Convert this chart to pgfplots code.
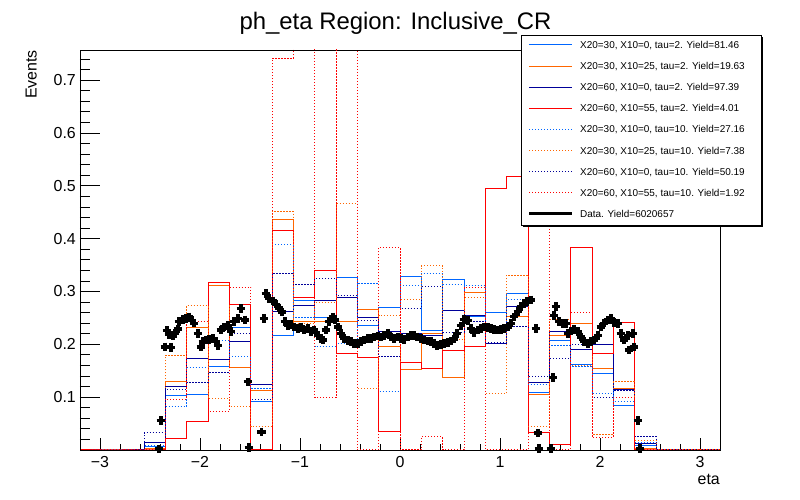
\documentclass[border=0pt]{standalone}
\usepackage{fontspec}
\setmainfont{Liberation Sans}
\usepackage{pgfplots}
\usepackage{pgfplotstable}
\pgfplotsset{compat=1.18}
\definecolor{cb}{RGB}{0,102,255}
\definecolor{co}{RGB}{255,102,0}
\definecolor{cn}{RGB}{0,0,153}
\definecolor{cr}{RGB}{255,0,0}
\pgfplotstableread{
e b o n r bd od nd rd
-3.2 0 0 0 0 0 0 0 0
-2.9867 0 0 0 0 0 0 0 0
-2.7733 0 0 0 0 0 0 0 0
-2.56 0.006 0.003 0.014 0 0.008 0 0.033 0
-2.3467 0.103 0.130 0.120 0.022 0.082 0.179 0.114 0.096
-2.1333 0.105 0.232 0.173 0.054 0.156 0.273 0.128 0.243
-1.92 0.158 0.312 0.171 0.317 0.208 0.0975 0.147 0.073
-1.7067 0.232 0.156 0.205 0.275 0.176 0.082 0.220 0.308
-1.4933 0.092 0.113 0.124 0 0.116 0.044 0.096 0
-1.28 0.217 0.436 0.262 0.416 0.389 0.4515 0.334 0.741
-1.0667 0.283 0.243 0.274 0.289 0.251 0.240 0.313 0.9
-0.8533 0.251 0.243 0.283 0.340 0.195 0.280 0.325 0.099
-0.64 0.326 0.243 0.288 0.182 0.201 0.467 0.292 0.9
-0.4267 0.236 0.266 0.251 0.175 0.315 0.116 0.246 0
-0.2133 0.270 0.196 0.224 0.035 0.111 0.255 0.176 0.383
0 0.329 0.152 0.221 0.166 0.311 0.285 0.268 0
0.2133 0.227 0.220 0.216 0.154 0.334 0.349 0.309 0.025
0.4267 0.322 0.137 0.264 0.188 0.313 0.210 0.223 0
0.64 0.252 0.298 0.255 0.196 0.311 0.289 0.244 0.307
0.8533 0.260 0.225 0.201 0.494 0.230 0.107 0.203 0
1.0667 0.296 0.253 0.271 0.518 0.285 0.331 0.234 0
1.28 0.109 0.105 0.128 0.033 0.124 0.044 0.139 0.8
1.4933 0.208 0.217 0.224 0.010 0.198 0.247 0.173 0
1.7067 0.162 0.240 0.190 0.384 0.158 0.159 0.200 0.261
1.92 0.145 0.154 0.200 0.183 0.106 0.029 0.100 0.024
2.1333 0.085 0.116 0.115 0.241 0.091 0.129 0.113 0.100
2.3467 0.009 0.003 0.012 0 0.015 0.018 0.026 0
2.56 0 0 0 0 0 0 0 0
2.7733 0 0 0 0 0 0 0 0
2.9867 0 0 0 0 0 0 0 0
3.2 0 0 0 0 0 0 0 0
}\hist
\pgfplotstableread{
x y
-2.41 0.002
-2.39 0.056
-2.35 0.195
-2.33 0.226
-2.31 0.219
-2.29 0.194
-2.27 0.217
-2.25 0.220
-2.22 0.229
-2.21 0.243
-2.17 0.247
-2.14 0.249
-2.11 0.252
-2.08 0.245
-2.06 0.240
-2.02 0.221
-1.99 0.195
-1.97 0.205
-1.94 0.208
-1.91 0.209
-1.87 0.211
-1.84 0.205
-1.82 0.198
-1.79 0.227
-1.76 0.233
-1.72 0.236
-1.69 0.224
-1.66 0.243
-1.62 0.249
-1.59 0.268
-1.55 0.246
-1.52 0.129
-1.51 0.005
-1.385 0.034
-1.36 0.249
-1.34 0.296
-1.31 0.287
-1.27 0.282
-1.24 0.276
-1.21 0.269
-1.18 0.261
-1.15 0.243
-1.12 0.236
-1.09 0.238
-1.06 0.233
-1.02 0.230
-0.99 0.233
-0.96 0.227
-0.92 0.230
-0.89 0.224
-0.86 0.227
-0.82 0.217
-0.79 0.211
-0.77 0.208
-0.74 0.227
-0.71 0.243
-0.67 0.252
-0.65 0.246
-0.62 0.233
-0.59 0.221
-0.56 0.211
-0.52 0.207
-0.49 0.205
-0.46 0.202
-0.42 0.202
-0.39 0.205
-0.36 0.208
-0.32 0.211
-0.29 0.211
-0.26 0.214
-0.22 0.216
-0.19 0.214
-0.16 0.217
-0.12 0.221
-0.09 0.214
-0.06 0.211
-0.02 0.214
0.01 0.211
0.04 0.209
0.08 0.214
0.11 0.217
0.14 0.217
0.17 0.214
0.21 0.211
0.24 0.208
0.28 0.206
0.31 0.205
0.34 0.202
0.37 0.198
0.41 0.200
0.44 0.202
0.48 0.204
0.51 0.206
0.54 0.210
0.57 0.221
0.61 0.235
0.64 0.247
0.68 0.245
0.71 0.230
0.74 0.222
0.78 0.227
0.81 0.230
0.84 0.233
0.88 0.232
0.91 0.230
0.94 0.228
0.98 0.227
1.01 0.228
1.04 0.230
1.08 0.233
1.11 0.240
1.14 0.252
1.18 0.262
1.21 0.271
1.24 0.277
1.27 0.281
1.31 0.284
1.36 0.230
1.38 0.032
1.39 0.003
1.51 0.003
1.53 0.137
1.54 0.255
1.56 0.271
1.59 0.243
1.63 0.239
1.66 0.239
1.68 0.221
1.71 0.225
1.74 0.228
1.78 0.224
1.81 0.214
1.84 0.205
1.88 0.202
1.91 0.205
1.94 0.208
1.98 0.217
2.01 0.233
2.04 0.240
2.08 0.246
2.11 0.249
2.14 0.241
2.18 0.239
2.21 0.221
2.24 0.208
2.28 0.217
2.29 0.189
2.33 0.221
2.34 0.195
2.38 0.056
2.40 0.003
}\data
\tikzset{rdot/.style={dash pattern=on 1.2bp off 1.8bp}}
\begin{document}
\begin{tikzpicture}[x=1bp,y=1bp]
\begin{axis}[at={(0,0)},anchor=south west,scale only axis,
  width=640bp,height=400bp,
  xmin=-3.2,xmax=3.2,ymin=0,ymax=0.757,
  xtick={-3,-2,-1,0,1,2,3},
  xticklabels={−3,−2,−1,0,1,2,3},
  minor xtick={-2.8,-2.6,...,2.81},
  ytick=\empty,
  xtick pos=left,
  tick align=inside,
  major tick length=12bp, minor tick length=6bp,
  major tick style={black,line width=0.8bp},
  minor tick style={black,line width=0.8bp},
  xticklabel style={font=\fontsize{16}{18}\selectfont,inner sep=0pt,anchor=north,yshift=-6bp},
  axis line style={line width=0.8bp},
  clip mode=individual,
  every axis plot/.append style={line width=1bp,mark=none}]
\addplot[const plot mark left,cb] table[x=e,y=b]{\hist};
\addplot[const plot mark left,co] table[x=e,y=o]{\hist};
\addplot[const plot mark left,cn] table[x=e,y=n]{\hist};
\addplot[const plot mark left,cr] table[x=e,y=r]{\hist};
\addplot[const plot mark left,cb,rdot] table[x=e,y=bd]{\hist};
\addplot[const plot mark left,co,rdot] table[x=e,y=od]{\hist};
\addplot[const plot mark left,cn,rdot] table[x=e,y=nd]{\hist};
\addplot[const plot mark left,cr,rdot] table[x=e,y=rd]{\hist};
\addplot[only marks,mark=+,mark size=4.3bp,line width=3.3bp,black] table[x=x,y=y]{\data};
\end{axis}
\begin{axis}[at={(0,0)},anchor=south west,scale only axis,
  width=640bp,height=400bp,
  xmin=0,xmax=1,ymin=0,ymax=0.757,
  axis x line=none, axis y line*=left,
  ytick={0.1,0.2,0.3,0.4,0.5,0.6,0.7},
  yticklabels={0.1,0.2,0.3,0.4,0.5,0.6,0.7},
  minor ytick={0.02,0.04,...,0.75},
  tick align=inside,
  major tick length=20bp, minor tick length=10bp,
  major tick style={black,line width=0.8bp},
  minor tick style={black,line width=0.8bp},
  yticklabel style={font=\fontsize{16}{18}\selectfont,inner sep=0pt,anchor=east,xshift=-4bp},
  axis line style={line width=0.8bp}]
\end{axis}
% legend
\fill[black] (443,223) rectangle (683,413);
\filldraw[fill=white,draw=black,line width=0.8bp] (441,225) rectangle (681,415);
\def\lx{449}\def\rx{492}\def\tx{500}
\draw[cb,line width=1bp] (\lx,405) -- (\rx,405);
\node[anchor=base west,inner sep=0pt,font=\fontsize{10}{12}\selectfont] at (\tx,401.4) {X20=30, X10=0, tau=2. Yield=81.46};
\draw[co,line width=1bp] (\lx,383.9) -- (\rx,383.9);
\node[anchor=base west,inner sep=0pt,font=\fontsize{10}{12}\selectfont] at (\tx,380.3) {X20=30, X10=25, tau=2. Yield=19.63};
\draw[cn,line width=1bp] (\lx,362.8) -- (\rx,362.8);
\node[anchor=base west,inner sep=0pt,font=\fontsize{10}{12}\selectfont] at (\tx,359.2) {X20=60, X10=0, tau=2. Yield=97.39};
\draw[cr,line width=1bp] (\lx,341.7) -- (\rx,341.7);
\node[anchor=base west,inner sep=0pt,font=\fontsize{10}{12}\selectfont] at (\tx,338.1) {X20=60, X10=55, tau=2. Yield=4.01};
\draw[cb,line width=1bp,rdot] (\lx,320.6) -- (\rx,320.6);
\node[anchor=base west,inner sep=0pt,font=\fontsize{10}{12}\selectfont] at (\tx,317.0) {X20=30, X10=0, tau=10. Yield=27.16};
\draw[co,line width=1bp,rdot] (\lx,299.5) -- (\rx,299.5);
\node[anchor=base west,inner sep=0pt,font=\fontsize{10}{12}\selectfont] at (\tx,295.9) {X20=30, X10=25, tau=10. Yield=7.38};
\draw[cn,line width=1bp,rdot] (\lx,278.4) -- (\rx,278.4);
\node[anchor=base west,inner sep=0pt,font=\fontsize{10}{12}\selectfont] at (\tx,274.8) {X20=60, X10=0, tau=10. Yield=50.19};
\draw[cr,line width=1bp,rdot] (\lx,257.3) -- (\rx,257.3);
\node[anchor=base west,inner sep=0pt,font=\fontsize{10}{12}\selectfont] at (\tx,253.7) {X20=60, X10=55, tau=10. Yield=1.92};
\draw[black,line width=3bp] (\lx,236.3) -- (\rx,236.3);
\node[anchor=base west,inner sep=0pt,font=\fontsize{10}{12}\selectfont] at (\tx,232.7) {Data. Yield=6020657};
% titles
\node[anchor=base,inner sep=0pt,font=\fontsize{24}{28}\selectfont] at (315.5,420) {ph\_eta Region: Inclusive\_CR};
\node[rotate=90,anchor=base east,inner sep=0pt,font=\fontsize{16}{18}\selectfont] at (-43.3,400) {Events};
\node[anchor=base east,inner sep=0pt,font=\fontsize{16}{18}\selectfont] at (640,-35) {eta};
\pgfresetboundingbox
\path[use as bounding box] (-80,-50) rectangle (720,450);
\end{tikzpicture}
\end{document}
